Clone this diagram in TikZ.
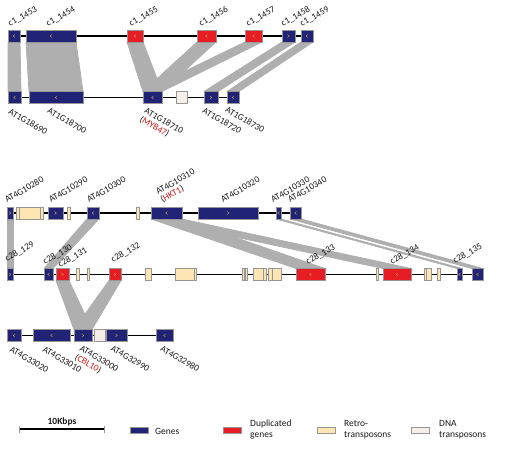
\documentclass[tikz,border=0pt]{standalone}
\usepackage{fontspec}
\setmainfont{Carlito}
\usetikzlibrary{calc}
\pgfdeclarelayer{background}
\pgfsetlayers{background,main}
\definecolor{gnavy}{RGB}{33,35,118}
\definecolor{dupred}{RGB}{232,28,36}
\definecolor{retro}{RGB}{253,230,180}
\definecolor{dnat}{RGB}{246,238,232}
\definecolor{bandgray}{RGB}{175,175,175}
\definecolor{chevc}{RGB}{205,165,80}
\definecolor{lbl}{RGB}{25,25,25}
\definecolor{hl}{RGB}{215,20,20}
\definecolor{edgegray}{RGB}{150,150,150}
\tikzset{
  blockbase/.style={inner sep=0pt, outer sep=0pt, minimum height=12pt, line width=0.4pt, draw=edgegray},
  gene/.style={blockbase, fill=gnavy},
  dup/.style={blockbase, fill=dupred},
  retrobox/.style={blockbase, fill=retro},
  dnabox/.style={blockbase, fill=dnat},
  backbone/.style={line width=1.6pt, black},
  bandfill/.style={fill=bandgray, draw=bandgray, line width=0.8pt, line join=round},
  ltr/.style={draw=edgegray, line width=0.4pt},
  uplabel/.style={rotate=30, anchor=base west, inner sep=0pt, font=\fontsize{9.2}{10}\selectfont, text=lbl},
  dnlabel/.style={rotate=-30, anchor=north west, inner sep=0pt, font=\fontsize{9.2}{10}\selectfont, text=lbl},
  chevmark/.style={draw=chevc, line width=0.4pt},
  legtext/.style={font=\fontsize{9.5}{11}\selectfont, text=lbl, align=left, anchor=west, inner sep=0pt},
  legbox/.style={inner sep=0pt, outer sep=0pt, minimum width=18pt, minimum height=6.5pt, line width=0.4pt, draw=edgegray},
}
\newcommand\blk[5]{\node[#1, minimum width={(#4-#3)*1pt}] (#2) at ({(#3+#4)/2},#5) {};}
\newcommand\chl[1]{\draw[chevmark] ([shift={(0.9pt,1.4pt)}]#1.center) -- ([shift={(-0.9pt,0pt)}]#1.center) -- ([shift={(0.9pt,-1.4pt)}]#1.center);}
\newcommand\chr[1]{\draw[chevmark] ([shift={(-0.9pt,1.4pt)}]#1.center) -- ([shift={(0.9pt,0pt)}]#1.center) -- ([shift={(-0.9pt,-1.4pt)}]#1.center);}
\newcommand\bnd[2]{\filldraw[bandfill] (#1.south west) -- (#1.south east) -- (#2.north east) -- (#2.north west) -- cycle;}
\newcommand\ltrline[2]{\draw[ltr] ([xshift=#2pt]#1.north west) -- ([xshift=#2pt]#1.south west);}
\begin{document}
\begin{tikzpicture}[x=1pt,y=-1pt]
\useasboundingbox (0,0) rectangle (505,450);
% ---------- section 1 ----------
\blk{gene}{t1453}{8}{20}{36}
\blk{gene}{t1454}{26}{76}{36}
\blk{dup}{t1455}{127}{143}{36}
\blk{dup}{t1456}{197}{216}{36}
\blk{dup}{t1457}{245}{262}{36}
\blk{gene}{t1458}{282}{295}{36}
\blk{gene}{t1459}{301}{313}{36}
\blk{gene}{b18690}{8}{21}{97.5}
\blk{gene}{b18700}{29}{83}{97.5}
\blk{gene}{b18710}{143}{162}{97.5}
\blk{dnabox}{bdna}{176}{187}{97.5}
\blk{gene}{b18720}{204}{218}{97.5}
\blk{gene}{b18730}{227}{239}{97.5}
\chl{t1453}\chl{t1454}\chl{t1455}\chl{t1456}\chl{t1457}\chr{t1458}\chl{t1459}
\chl{b18690}\chl{b18700}\chl{b18710}\chr{b18720}\chl{b18730}
\begin{pgfonlayer}{background}
\draw[backbone] (t1453.center) -- (t1459.center);
\draw[backbone] (b18690.center) -- (b18730.center);
\bnd{t1453}{b18690}
\bnd{t1454}{b18700}
\bnd{t1455}{b18710}
\bnd{t1456}{b18710}
\bnd{t1457}{b18710}
\bnd{t1458}{b18720}
\bnd{t1459}{b18730}
\end{pgfonlayer}
\node[uplabel] (lt1453) at (10,27) {c1\_1453};
\node[uplabel] (lt1454) at (48,27) {c1\_1454};
\node[uplabel] (lt1455) at (131,27) {c1\_1455};
\node[uplabel] (lt1456) at (201,27) {c1\_1456};
\node[uplabel] (lt1457) at (248,27) {c1\_1457};
\node[uplabel] (lt1458) at (283,27) {c1\_1458};
\node[uplabel] (lt1459) at (302,27) {c1\_1459};
\node[dnlabel] (lb18690) at (11,108) {AT1G18690};
\node[dnlabel] (lb18700) at (50,107) {AT1G18700};
\node[dnlabel] (lb18710) at (147,107) {AT1G18710};
\node[dnlabel] (lbmyb) at (142.5,115) {(\textcolor{hl}{MYB47})};
\node[dnlabel] (lb18720) at (205,107) {AT1G18720};
\node[dnlabel] (lb18730) at (228,106) {AT1G18730};
% ---------- section 2 ----------
\blk{gene}{u10280}{7}{13}{213}
\blk{retrobox}{ur1}{16}{43}{213}
\blk{gene}{u10290}{48}{63}{213}
\blk{retrobox}{ur2}{67}{70}{213}
\blk{gene}{u10300}{87}{99}{213}
\blk{retrobox}{ur3}{136}{139}{213}
\blk{gene}{u10310}{151}{182}{213}
\blk{gene}{u10320}{198}{258}{213}
\blk{gene}{u10330}{276}{281}{213}
\blk{gene}{u10340}{290}{301}{213}
\ltrline{ur1}{3}\ltrline{ur1}{24}
\chr{u10280}\chr{u10290}\chl{u10300}\chl{u10310}\chr{u10320}\chl{u10330}\chl{u10340}
\blk{gene}{m129}{7}{13}{274.5}
\blk{gene}{m130}{44}{53}{274.5}
\blk{dup}{m131}{56}{69}{274.5}
\blk{retrobox}{mr1}{76}{79}{274.5}
\blk{retrobox}{mr2}{87}{89}{274.5}
\blk{dup}{m132}{109}{121}{274.5}
\blk{retrobox}{mr3}{145}{151}{274.5}
\blk{retrobox}{mr4}{175}{196}{274.5}
\blk{retrobox}{mr5}{242.5}{244}{274.5}
\blk{retrobox}{mr6}{245.5}{247}{274.5}
\blk{retrobox}{mr7}{253}{266}{274.5}
\blk{retrobox}{mr8}{268}{281}{274.5}
\blk{dup}{m133}{296}{325}{274.5}
\blk{retrobox}{mr9}{376}{378.5}{274.5}
\blk{dup}{m134}{383}{411}{274.5}
\blk{retrobox}{mr10}{424}{431}{274.5}
\blk{retrobox}{mr11}{437}{440}{274.5}
\blk{gene}{m135}{457}{462}{274.5}
\blk{gene}{m136}{472}{483}{274.5}
\ltrline{mr4}{19.5}\ltrline{mr7}{10}\ltrline{mr8}{4}\ltrline{mr10}{2}
\chr{m129}\chl{m130}\chr{m131}\chr{m132}\chl{m133}\chl{m134}\chl{m135}\chl{m136}
\blk{gene}{l33020}{7}{21}{335.5}
\blk{gene}{l33010}{33}{70}{335.5}
\blk{gene}{l33000}{74}{92}{335.5}
\blk{dnabox}{ldna}{94}{105}{335.5}
\blk{gene}{l32990}{106}{127}{335.5}
\blk{gene}{l32980}{156}{173}{335.5}
\chl{l33020}\chl{l33010}\chr{l33000}\chr{l32990}\chl{l32980}
\begin{pgfonlayer}{background}
\draw[backbone] (u10280.center) -- (u10340.center);
\draw[backbone] (m129.center) -- (m136.center);
\draw[backbone] (l33020.center) -- (l32980.center);
\bnd{u10280}{m129}
\bnd{u10300}{m130}
\bnd{u10310}{m133}
\bnd{u10310}{m134}
\bnd{u10330}{m135}
\bnd{u10340}{m136}
\bnd{m131}{l33000}
\bnd{m132}{l33000}
\end{pgfonlayer}
\node[uplabel] (lu10280) at (7,203) {AT4G10280};
\node[uplabel] (lu10290) at (51,203) {AT4G10290};
\node[uplabel] (lu10300) at (89,203) {AT4G10300};
\node[uplabel] (lu10310) at (158,195) {AT4G10310};
\node[uplabel] (luhkt) at (162.5,203) {(\textcolor{hl}{HKT1})};
\node[uplabel] (lu10320) at (223,203) {AT4G10320};
\node[uplabel] (lu10330) at (273,203) {AT4G10330};
\node[uplabel] (lu10340) at (290,203) {AT4G10340};
\node[uplabel] (lm129) at (7,262) {c28\_129};
\node[uplabel] (lm130) at (45,265) {c28\_130};
\node[uplabel] (lm131) at (60,268) {c28\_131};
\node[uplabel] (lm132) at (113,263) {c28\_132};
\node[uplabel] (lm133) at (308,265) {c28\_133};
\node[uplabel] (lm134) at (392,265) {c28\_134};
\node[uplabel] (lm135) at (455,264) {c28\_135};
\node[dnlabel] (ll33020) at (12,346) {AT4G33020};
\node[dnlabel] (ll33010) at (45,346) {AT4G33010};
\node[dnlabel] (ll33000) at (82,345) {AT4G33000};
\node[dnlabel] (llcbl) at (77.5,353) {(\textcolor{hl}{CBL10})};
\node[dnlabel] (ll32990) at (113,345) {AT4G32990};
\node[dnlabel] (ll32980) at (163,345) {AT4G32980};
% ---------- legend ----------
\coordinate (sbl) at (19,429);
\coordinate (sbr) at (104,429);
\draw[backbone] (sbl) -- (sbr);
\draw[draw=edgegray, line width=0.5pt] ([yshift=3.5pt]sbl) -- ([yshift=-3.5pt]sbl);
\draw[draw=edgegray, line width=0.5pt] ([yshift=3.5pt]sbr) -- ([yshift=-3.5pt]sbr);
\node[font=\fontsize{9.5}{11}\selectfont\bfseries, text=lbl, inner sep=0pt] (sbt) at (62,422) {10Kbps};
\node[legbox, fill=gnavy] (kg) at (139,430) {};
\node[legtext] (kgt) at (155,431) {Genes};
\node[legbox, fill=dupred] (kd) at (232.5,430) {};
\node[legtext] (kdt) at (250,430) {Duplicated\\genes};
\node[legbox, fill=retro] (kr) at (326.5,430) {};
\node[legtext] (krt) at (344,430) {Retro-\\transposons};
\node[legbox, fill=dnat] (kn) at (420,430) {};
\node[legtext] (knt) at (439,430) {DNA\\transposons};
\end{tikzpicture}
\end{document}
